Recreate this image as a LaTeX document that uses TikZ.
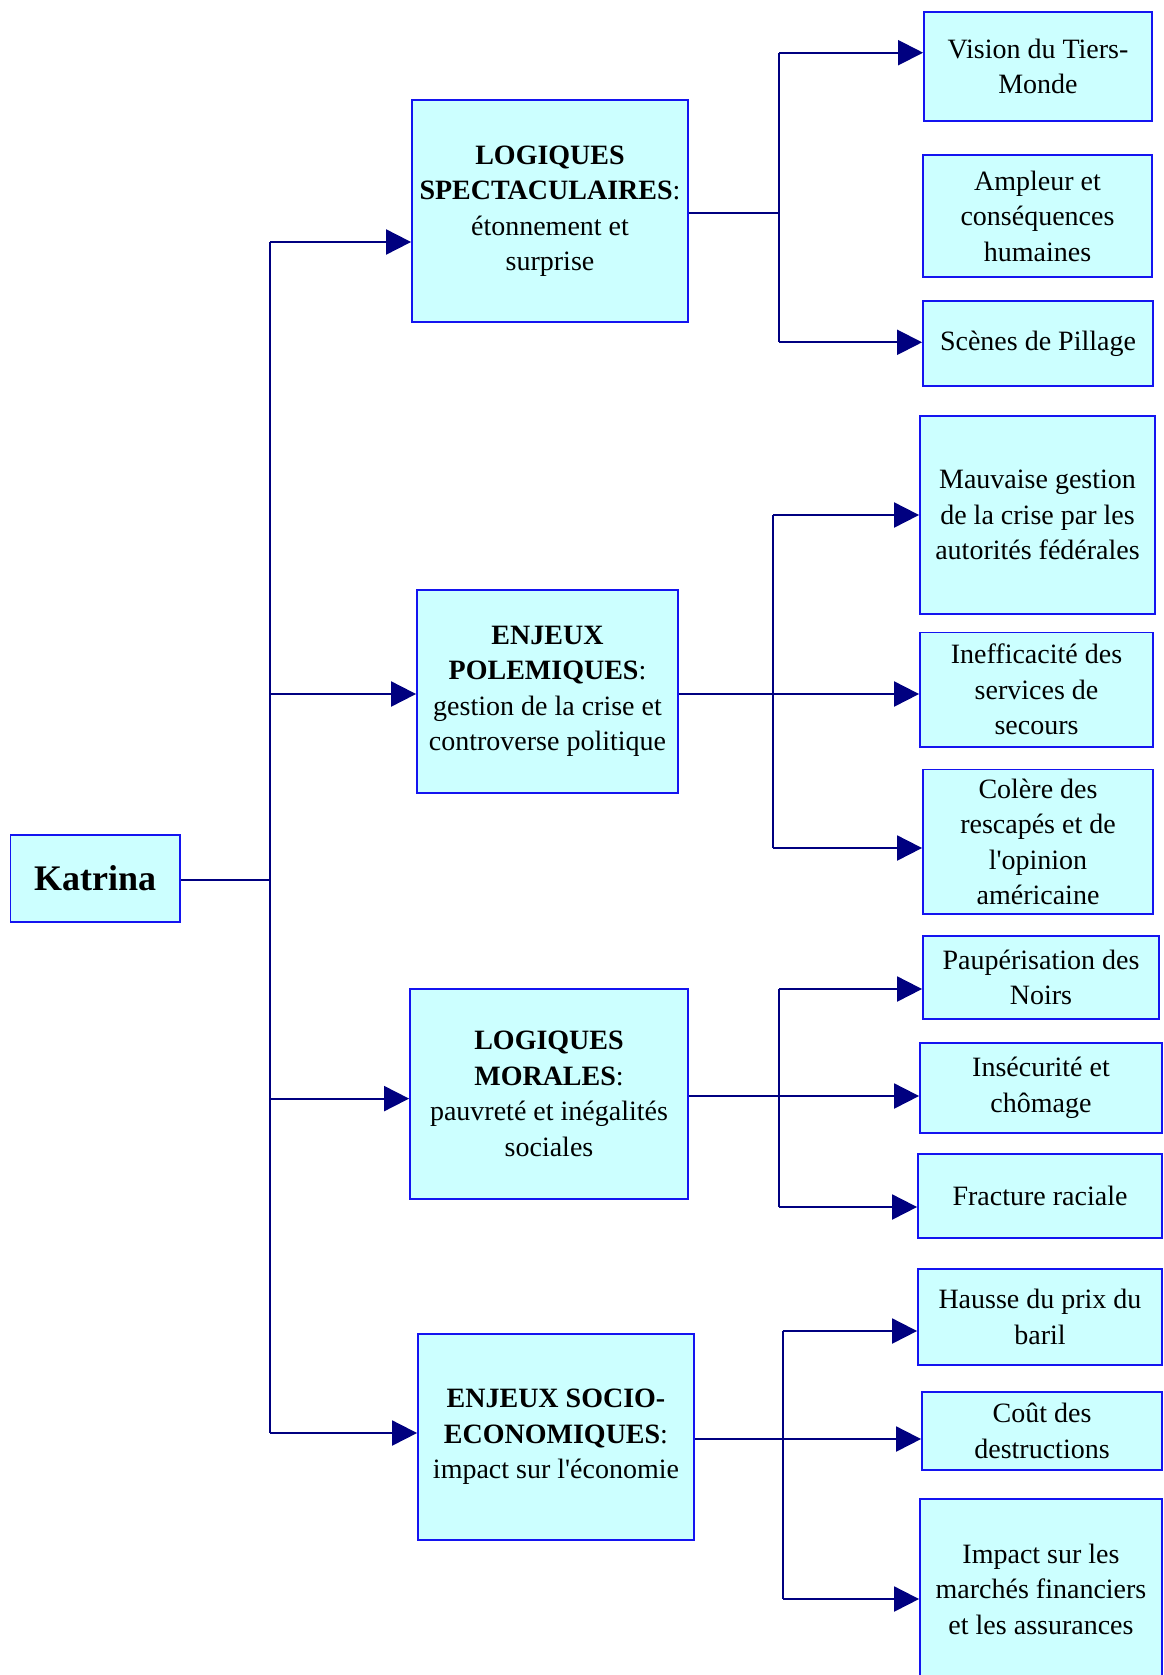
\documentclass[tikz,border=0pt]{standalone}
\usepackage{fontspec}
\setmainfont{Liberation Serif}
\usetikzlibrary{arrows.meta}
\definecolor{boxfill}{HTML}{CCFFFF}
\definecolor{boxline}{HTML}{1414F0}
\definecolor{navy}{HTML}{000080}
\begin{document}
\begin{tikzpicture}[x=1pt,y=-1pt,
  rbox/.style={draw=boxline, fill=boxfill, line width=1.8pt, inner sep=0pt, align=center,
    font=\fontsize{28}{35.5}\selectfont},
  conn/.style={draw=navy, line width=2pt},
  arr/.style={conn, -{Triangle[length=25pt,width=25pt]}}]
\useasboundingbox (0,0) rectangle (1163,1675);
\clip (0,0) rectangle (1163,1675);

% root
\node[rbox, minimum width=169.6pt, minimum height=87pt, font=\fontsize{36}{40}\selectfont\bfseries] (katrina) at (95.2,878.5) {Katrina};

% level 1
\node[rbox, minimum width=276pt, minimum height=222.6pt] (b1) at (550,211) {\textbf{LOGIQUES}\\\textbf{SPECTACULAIRES}:\\étonnement et\\surprise};
\node[rbox, minimum width=261pt, minimum height=203pt] (b2) at (547.5,691.5) {\textbf{ENJEUX}\\\textbf{POLEMIQUES}:\\gestion de la crise et\\controverse politique};
\node[rbox, minimum width=278pt, minimum height=210pt] (b3) at (549,1094) {\textbf{LOGIQUES}\\\textbf{MORALES}:\\pauvreté et inégalités\\sociales};
\node[rbox, minimum width=276pt, minimum height=206pt] (b4) at (556,1437) {\textbf{ENJEUX SOCIO-}\\\textbf{ECONOMIQUES}:\\impact sur l\textquotesingle économie};

% level 2
\node[rbox, minimum width=228pt, minimum height=109pt] (r11) at (1038,66.2) {Vision du Tiers-\\Monde};
\node[rbox, minimum width=229pt, minimum height=122pt] (r12) at (1037.5,216) {Ampleur et\\conséquences\\humaines};
\node[rbox, minimum width=230pt, minimum height=85pt] (r13) at (1038,343.5) {Scènes de Pillage};

\node[rbox, minimum width=235pt, minimum height=198pt] (r21) at (1037.5,515) {Mauvaise gestion\\de la crise par les\\autorités fédérales};
\node[rbox, minimum width=233pt, minimum height=114.5pt] (r22) at (1036.5,689.75) {Inefficacité des\\services de\\secours};
\node[rbox, minimum width=230pt, minimum height=144.5pt] (r23) at (1038,841.75) {Colère des\\rescapés et de\\l\textquotesingle opinion\\américaine};

\node[rbox, minimum width=236pt, minimum height=83pt] (r31) at (1041,977.5) {Paupérisation des\\Noirs};
\node[rbox, minimum width=242pt, minimum height=90pt] (r32) at (1041,1088) {Insécurité et\\chômage};
\node[rbox, minimum width=244pt, minimum height=84pt] (r33) at (1040,1196) {Fracture raciale};

\node[rbox, minimum width=244pt, minimum height=96pt] (r41) at (1040,1317) {Hausse du prix du\\baril};
\node[rbox, minimum width=240pt, minimum height=78pt] (r42) at (1042,1431) {Coût des\\destructions};
\node[rbox, minimum width=242pt, minimum height=180pt] (r43) at (1041,1589) {Impact sur les\\marchés financiers\\et les assurances};

% trunk
\coordinate (tk) at (270,880);
\coordinate (tA) at (270,242);
\coordinate (tB) at (270,694);
\coordinate (tC) at (270,1098.6);
\coordinate (tD) at (270,1433);
\draw[conn] (katrina.east |- tk) -- (tk);
\draw[conn] (tA) -- (tD);
\draw[arr] (tA) -- (tA -| b1.west);
\draw[arr] (tB) -- (tB -| b2.west);
\draw[arr] (tC) -- (tC -| b3.west);
\draw[arr] (tD) -- (tD -| b4.west);

% group 1
\coordinate (j1) at (779,212.7);
\coordinate (j1a) at (779,52.7);
\coordinate (j1c) at (779,342.3);
\draw[conn] (b1.east |- j1) -- (j1);
\draw[conn] (j1a) -- (j1c);
\draw[arr] (j1a) -- (j1a -| r11.west);
\draw[arr] (j1c) -- (j1c -| r13.west);

% group 2
\coordinate (j2) at (773,694);
\coordinate (j2a) at (773,515);
\coordinate (j2c) at (773,848);
\draw[arr] (b2.east |- j2) -- (j2 -| r22.west);
\draw[conn] (j2a) -- (j2c);
\draw[arr] (j2a) -- (j2a -| r21.west);
\draw[arr] (j2c) -- (j2c -| r23.west);

% group 3
\coordinate (j3) at (779,1096);
\coordinate (j3a) at (779,989);
\coordinate (j3c) at (779,1207);
\draw[arr] (b3.east |- j3) -- (j3 -| r32.west);
\draw[conn] (j3a) -- (j3c);
\draw[arr] (j3a) -- (j3a -| r31.west);
\draw[arr] (j3c) -- (j3c -| r33.west);

% group 4
\coordinate (j4) at (782.5,1439);
\coordinate (j4a) at (782.5,1331);
\coordinate (j4c) at (782.5,1599);
\draw[arr] (b4.east |- j4) -- (j4 -| r42.west);
\draw[conn] (j4a) -- (j4c);
\draw[arr] (j4a) -- (j4a -| r41.west);
\draw[arr] (j4c) -- (j4c -| r43.west);
\end{tikzpicture}
\end{document}
